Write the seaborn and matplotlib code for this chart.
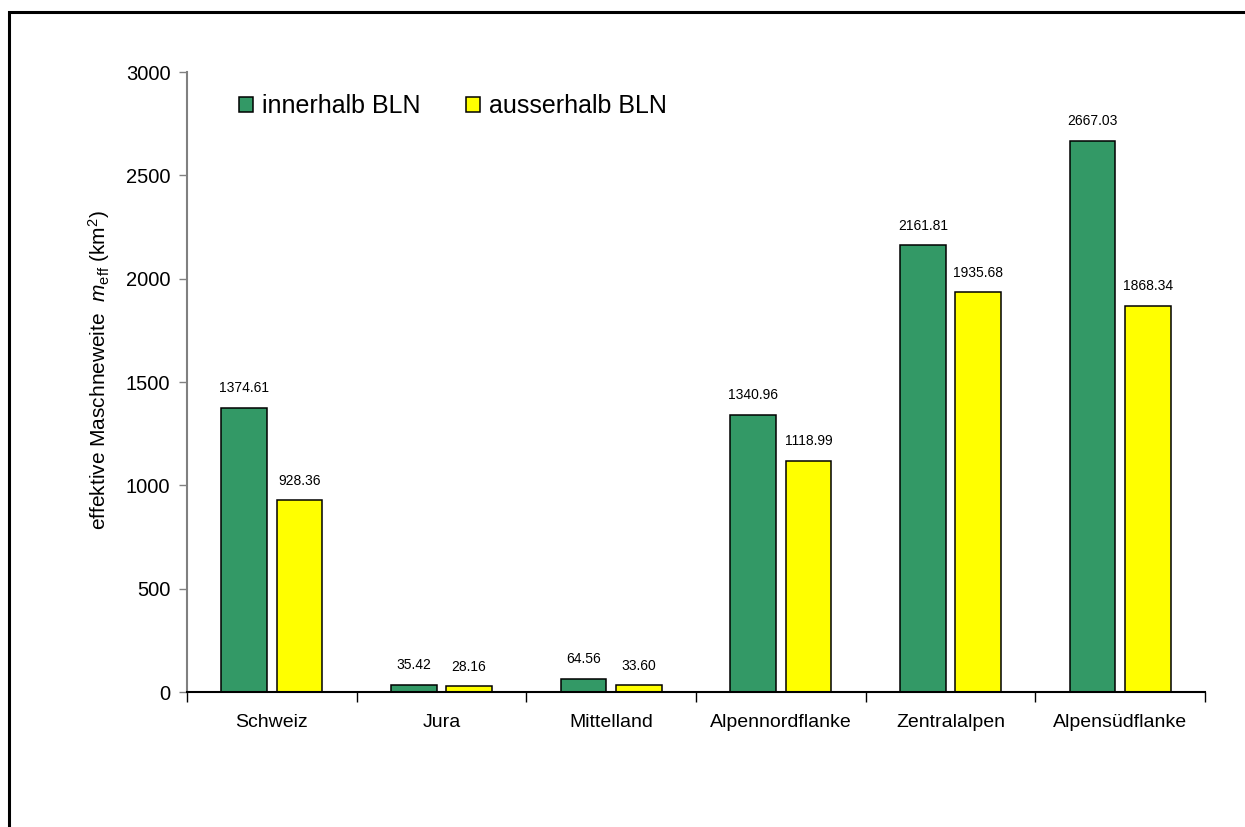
import matplotlib
matplotlib.use("Agg")
import matplotlib.pyplot as plt
from matplotlib.patches import Patch, Rectangle
from matplotlib.ticker import FixedLocator, NullFormatter
import seaborn as sns
import pandas as pd

# Effective mesh size per region, inside and outside BLN areas
regions = ["Schweiz", "Jura", "Mittelland", "Alpennordflanke", "Zentralalpen", "Alpensüdflanke"]
series = ["innerhalb BLN", "ausserhalb BLN"]
innerhalb = [1374.61, 35.42, 64.56, 1340.96, 2161.81, 2667.03]
ausserhalb = [928.36, 28.16, 33.60, 1118.99, 1935.68, 1868.34]
colors = ["#339966", "#FFFF00"]
y_ticks = [0, 500, 1000, 1500, 2000, 2500, 3000]

df = pd.DataFrame({
    "Region": regions * 2,
    "Gruppe": [series[0]] * len(regions) + [series[1]] * len(regions),
    "meff": innerhalb + ausserhalb,
})

sns.set_theme(style="white")
plt.rcParams["font.family"] = ["Liberation Sans", "DejaVu Sans"]
plt.rcParams["mathtext.fontset"] = "custom"
plt.rcParams["mathtext.rm"] = "Liberation Sans"
plt.rcParams["mathtext.it"] = "Liberation Sans:italic"
plt.rcParams["text.color"] = "black"
plt.rcParams["axes.labelcolor"] = "black"
plt.rcParams["xtick.color"] = "black"
plt.rcParams["ytick.color"] = "black"

fig = plt.figure(figsize=(12.45, 8.27), dpi=100)
ax = fig.add_axes([187 / 1245, 1 - 692 / 827, 1018 / 1245, 620 / 827])

sns.barplot(data=df, x="Region", y="meff", hue="Gruppe", order=regions,
            hue_order=series, palette=colors, width=0.65, gap=0.17,
            edgecolor="black", linewidth=1.1, saturation=1, legend=False, ax=ax)

# value labels above each bar
for container in ax.containers:
    for bar in container:
        h = bar.get_height()
        ax.annotate(f"{h:.2f}", (bar.get_x() + bar.get_width() / 2, h),
                    xytext=(0, 14), textcoords="offset points",
                    ha="center", va="center", fontsize=10, color="black")

ax.set_xlim(-0.5, len(regions) - 0.5)
ax.set_ylim(0, 3000)
ax.set_yticks(y_ticks)
ax.tick_params(axis="y", which="major", direction="out", length=6, width=1,
               color="#808080", labelcolor="black", labelsize=14.5, pad=6, left=True)
ax.tick_params(axis="x", which="major", length=0, labelsize=14, labelcolor="black", pad=16)
ax.xaxis.set_minor_locator(FixedLocator([i - 0.5 for i in range(len(regions) + 1)]))
ax.xaxis.set_minor_formatter(NullFormatter())
ax.tick_params(axis="x", which="minor", direction="out", length=7, width=1,
               color="black", bottom=True)

for side in ["top", "right"]:
    ax.spines[side].set_visible(False)
ax.spines["left"].set_color("#808080")
ax.spines["left"].set_linewidth(1.5)
ax.spines["bottom"].set_color("black")
ax.spines["bottom"].set_linewidth(1.5)

ax.set_xlabel("")
ax.set_ylabel(r"effektive Maschneweite  $m_{\rm eff}$ (km$^2$)", fontsize=15)
ax.yaxis.set_label_coords(-75 / 1018, 0.52)

handles = [Patch(facecolor=c, edgecolor="black", linewidth=1.1) for c in colors]
ax.legend(handles, series, ncol=2, frameon=False, fontsize=18,
          loc="center left", bbox_to_anchor=(0.051, 0.945),
          handlelength=0.56, handleheight=0.56, handletextpad=0.36,
          columnspacing=1.84, borderpad=0, borderaxespad=0)

# outer frame of the chart area
fig.add_artist(Rectangle((9 / 1245, -0.2), 2.0, 1.2 - 12 / 827,
                         transform=fig.transFigure, fill=False,
                         edgecolor="black", linewidth=2.2, clip_on=False))

fig.savefig("out.png", dpi=100)
